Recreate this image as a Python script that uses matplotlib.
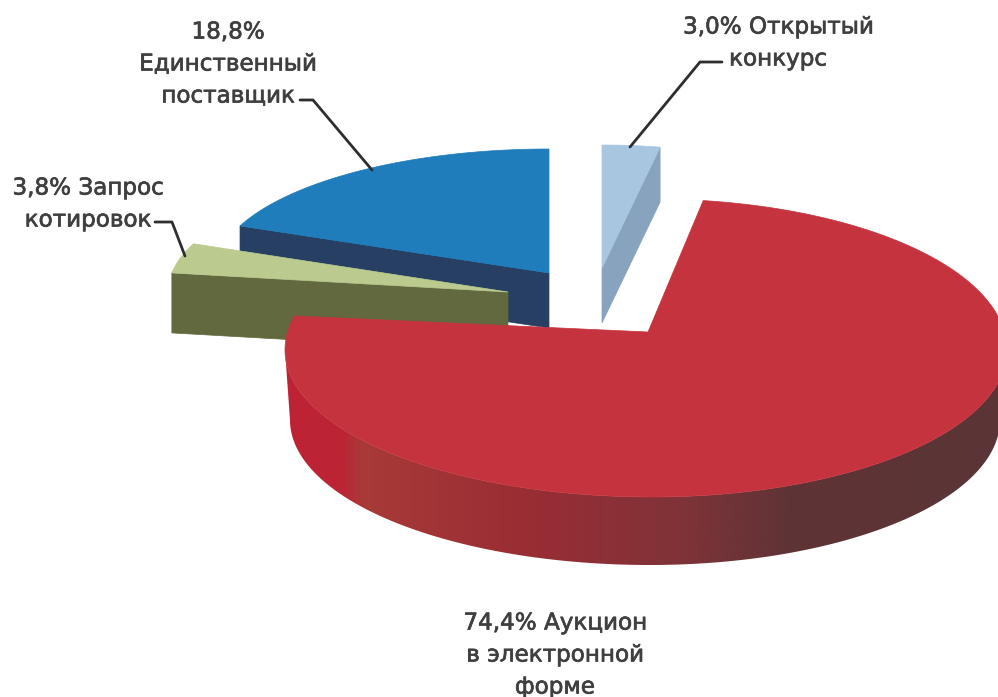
import numpy as np
import matplotlib
matplotlib.use("Agg")
import matplotlib.pyplot as plt
import matplotlib.patheffects as pe
from matplotlib.patches import Polygon
from matplotlib.colors import LinearSegmentedColormap

# Data, clockwise from 12 o'clock
categories = ["Открытый конкурс", "Аукцион в электронной форме", "Запрос котировок", "Единственный поставщик"]
shares = [3.0, 74.4, 3.8, 18.8]
labels = ["3,0% Открытый\nконкурс", "74,4% Аукцион\nв электронной\nформе", "3,8% Запрос\nкотировок", "18,8%\nЕдинственный\nпоставщик"]

# Geometry per slice (pixel layout of the exploded pseudo-3D pie)
apex = [(602, 268), (648, 332), (508, 292), (549, 273)]
centre = [(602, 268), (652, 350), (508, 292), (549, 273)]
rx_left = [310, 367, 340, 334]
rx_right = [310, 355, 340, 334]
ry_up = [123, 151, 127, 124]
ry_low = [123, 147, 127, 124]
depth = [55, 68, 60, 55]
# perspective correction of the drawn angle at the start / end of a slice (degrees)
trim_start = [0, -2.5, 0, 0]
trim_end = [0, 4.4, 0, 0]
# lower outline of the large slice's wall
wall_centre = (650, 420)
wall_rx_left, wall_rx_right, wall_ry = 360, 350, 145
top_col = ["#A9C6E0", "#C5343E", "#BBCB8F", "#1F7DBB"]
side_col = ["#88A3BE", "#8E2F35", "#62693F", "#263F63"]
label_xy = [(778, 43), (555, 655), (88, 204), (228, 64)]
leaders = [[(722, 62), (700, 62), (630, 147)], None,
           [(155, 222), (172, 222), (185, 256)],
           [(300, 100), (313, 100), (372, 170)]]
wall_ramp = LinearSegmentedColormap.from_list(
    "wall", [(0, "#BE2235"), (0.08, "#BC2535"), (0.105, "#A83A38"), (0.33, "#9A2D34"),
             (0.55, "#7F3338"), (0.70, "#5F3336"), (1, "#5A3536")])

fig = plt.figure(figsize=(9.98, 6.97), dpi=100, facecolor="white")
ax = fig.add_axes([0, 0, 1, 1])

edges = np.deg2rad(np.concatenate([[0], np.cumsum(shares)]) / sum(shares) * 360)


def outline(t, cx, cy, rl, rr, up, low):
    s, c = np.sin(t), np.cos(t)
    x = cx + np.where(s > 0, rr, rl) * s
    y = cy - np.where(c > 0, up, low) * c
    return np.column_stack([x, y])


def arc(i, a, b, n=240):
    return outline(np.linspace(a, b, n), *centre[i], rx_left[i], rx_right[i], ry_up[i], ry_low[i])


def top_face(i, z):
    a = edges[i] + np.deg2rad(trim_start[i])
    b = edges[i + 1] + np.deg2rad(trim_end[i])
    pts = np.vstack([[apex[i]], arc(i, a, b)])
    ax.add_patch(Polygon(pts, closed=True, fc=top_col[i], ec=top_col[i], lw=0.5, zorder=z))


def cut_face(i, t, z):
    p = arc(i, t, t, 1)[0]
    a = np.array(apex[i], float)
    d = np.array([0, depth[i]])
    ax.add_patch(Polygon([p, a, a + d, p + d], closed=True, fc=side_col[i], ec=side_col[i], lw=0.5, zorder=z))


# Small slices: back to front
cut_face(3, edges[3], 2)
top_face(3, 3)
cut_face(2, edges[2], 4)
top_face(2, 5)
cut_face(0, edges[1], 2)
top_face(0, 3)

# Large slice: front wall with a horizontal shading ramp
upper = arc(1, np.pi / 2, 1.5 * np.pi)
lower = outline(np.linspace(1.5 * np.pi, np.pi / 2, 240), *wall_centre,
                wall_rx_left, wall_rx_right, wall_ry, wall_ry)
wall = Polygon(np.vstack([upper, lower]), closed=True, fc="none", ec="none", transform=ax.transData)
ax.add_patch(wall)
xmin, xmax = centre[1][0] - rx_left[1], centre[1][0] + rx_right[1]
im = ax.imshow(np.linspace(0, 1, 512)[None, :], cmap=wall_ramp, aspect="auto",
               extent=(xmin, xmax, 697, 0), zorder=6, interpolation="bilinear")
im.set_clip_path(wall)
top_face(1, 7)

# Labels and leader lines
for text, (x, y), lead in zip(labels, label_xy, leaders):
    ax.text(x, y, text, ha="center", va="center", fontsize=16.6, family="DejaVu Sans",
            color="#3F3F3F", linespacing=1.5, zorder=9,
            path_effects=[pe.withStroke(linewidth=0.5, foreground="#3F3F3F")])
    if lead:
        xs, ys = zip(*lead)
        ax.plot(xs, ys, color="#2E2E2E", lw=2, solid_capstyle="round", zorder=8)

ax.set_xlim(0, 998)
ax.set_ylim(697, 0)
ax.axis("off")
fig.savefig("out.png", dpi=100, facecolor="white")
